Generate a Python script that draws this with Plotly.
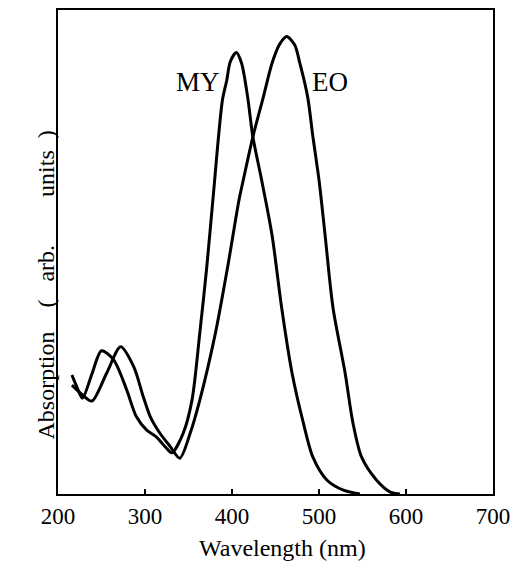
import plotly.graph_objects as go

# MY spectrum (wavelength nm, absorption arb. units)
my_wl = [216, 222, 228, 239, 250, 264, 279, 290, 302, 313, 325, 331, 344, 354, 363,
         371, 378, 389, 394, 398, 405, 411, 418, 424, 434, 446, 457, 469, 482, 493, 509, 528, 547]
my_ab = [0.246, 0.220, 0.198, 0.248, 0.296, 0.277, 0.215, 0.160, 0.132, 0.118, 0.094, 0.085, 0.126, 0.194, 0.333,
         0.469, 0.607, 0.814, 0.855, 0.893, 0.912, 0.890, 0.820, 0.738, 0.649, 0.535, 0.386, 0.250, 0.147, 0.076, 0.029, 0.008, 0.0]

# EO spectrum
eo_wl = [216, 228, 239, 256, 272, 287, 298, 306, 317, 329, 340, 352, 363, 381, 395,
         408, 413, 424, 436, 446, 455, 463, 472, 478, 487, 493, 500, 507, 516, 530, 539, 549, 566, 582, 593]
eo_ab = [0.225, 0.205, 0.192, 0.250, 0.304, 0.263, 0.201, 0.160, 0.126, 0.098, 0.074, 0.126, 0.194, 0.333, 0.469,
         0.607, 0.649, 0.738, 0.820, 0.890, 0.930, 0.945, 0.928, 0.890, 0.820, 0.738, 0.649, 0.535, 0.386, 0.250, 0.147, 0.076, 0.029, 0.004, 0.0]

x_ticks = [200, 300, 400, 500, 600, 700]

FONT = "Liberation Serif"
NB = "\u00a0"

fig = go.Figure()
for wl, ab in [(my_wl, my_ab), (eo_wl, eo_ab)]:
    fig.add_trace(go.Scatter(x=wl, y=ab, mode="lines",
                             line=dict(color="black", width=3, shape="spline", smoothing=0.8),
                             showlegend=False))

fig.update_layout(
    width=511, height=580,
    margin=dict(l=58, r=18, t=10, b=86, autoexpand=False),
    paper_bgcolor="white", plot_bgcolor="white",
    font=dict(family=FONT, color="black", size=23),
    xaxis=dict(range=[200, 700], tickvals=x_ticks, ticks="inside", ticklen=5,
               tickwidth=1.5, tickcolor="black", showgrid=False, zeroline=False,
               showline=True, linecolor="black", linewidth=2, mirror=True,
               tickfont=dict(family=FONT, size=23, color="black")),
    yaxis=dict(range=[0, 1], showticklabels=False, ticks="", showgrid=False,
               zeroline=False, showline=True, linecolor="black", linewidth=2, mirror=True),
)

fig.add_annotation(x=361, y=0.851, xref="x", yref="y", text="MY", showarrow=False,
                   font=dict(family=FONT, size=27, color="black"))
fig.add_annotation(x=513, y=0.851, xref="x", yref="y", text="EO", showarrow=False,
                   font=dict(family=FONT, size=27, color="black"))
fig.add_annotation(x=0.515, y=-0.1426, xref="paper", yref="paper", text="Wavelength (nm)",
                   showarrow=False, font=dict(family=FONT, size=24, color="black"))
ytitle = "Absorption" + NB * 4 + "(" + NB * 3 + "arb." + NB * 8 + "units" + NB * 2 + ")"
fig.add_annotation(x=-0.062, y=0.4308, xref="paper", yref="paper", text=ytitle,
                   textangle=-90, showarrow=False, font=dict(family=FONT, size=24, color="black"))

fig.write_html("out.html",
               config={"displayModeBar": False},
               post_script="document.body.style.margin='0';"
                           "document.body.style.overflow='hidden';"
                           "document.documentElement.style.overflow='hidden';")
